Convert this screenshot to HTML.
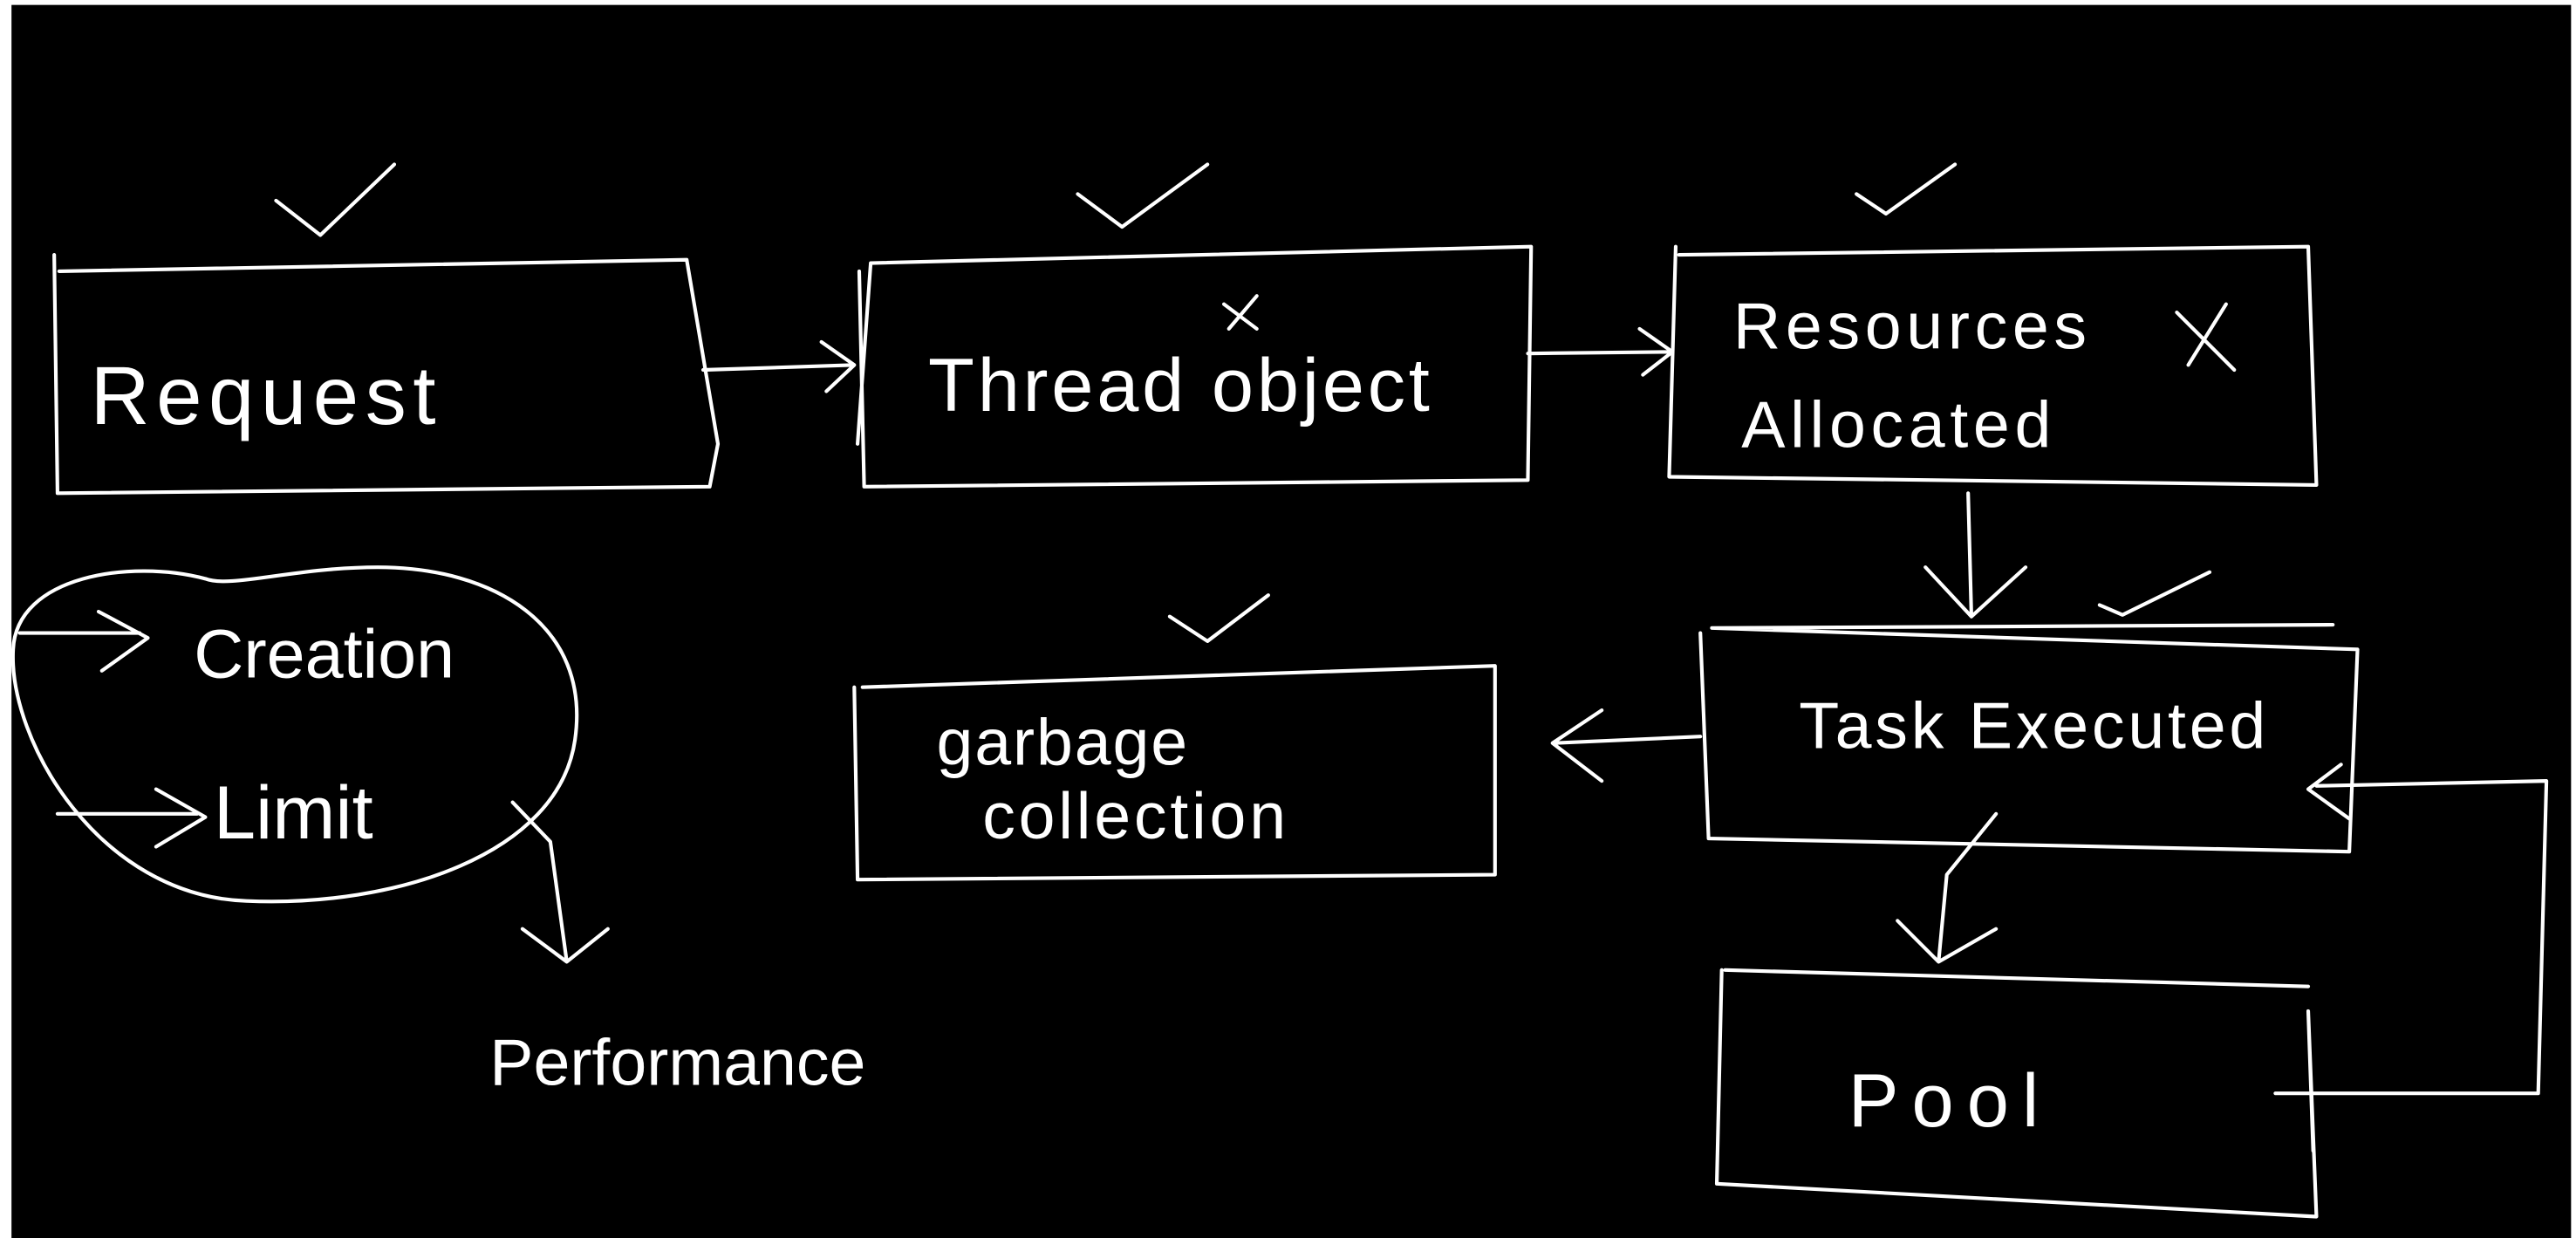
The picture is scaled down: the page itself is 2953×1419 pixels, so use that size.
<!DOCTYPE html>
<html><head><meta charset="utf-8"><style>
html,body{margin:0;padding:0;background:#fff;}
svg{display:block;}
text{font-family:"Liberation Sans",sans-serif;fill:#fff;}
</style></head><body>
<svg width="2953" height="1419" viewBox="0 0 1568 753" preserveAspectRatio="none" xmlns="http://www.w3.org/2000/svg">
<rect x="0" y="0" width="1568" height="753" fill="#fff"/>
<rect x="7" y="3" width="1558" height="750" fill="#000"/>
<g fill="none" stroke="#fff" stroke-width="2.2" stroke-linecap="round" stroke-linejoin="round">
<path d="M168 122 L195 143 L240 100"/>
<path d="M656 118 L683 138 L735 100"/>
<path d="M1130 118 L1148 130 L1190 100"/>
<path d="M712 375 L735 390 L772 362"/>
<path d="M1278 368 L1292 374 L1345 348"/>
<path d="M33 155 L35 300 L432 296 L437 270 L418 158 L36 165"/>
<path d="M523 165 L526 296 L930 292 L932 150 L530 160 L522 270"/>
<path d="M1020 150 L1016 290 L1410 295 L1405 150 L1022 155"/>
<path d="M428 225 L520 222 M500 208 L520 222 L503 238"/>
<path d="M930 215 L1018 214 M998 200 L1018 214 L1000 228"/>
<path d="M1198 300 L1200 375 M1172 345 L1200 375 L1233 345"/>
<path d="M1035 385 L1040 510 L1430 518 L1435 395 L1042 382 L1420 380"/>
<path d="M1035 448 L945 452 M975 432 L945 452 L975 475"/>
<path d="M520 418 L522 535 L910 532 L910 405 L525 418"/>
<path d="M1215 495 L1185 532 L1180 585 M1155 560 L1180 585 L1215 565"/>
<path d="M1048 590 L1045 720 L1410 740 L1405 615 L1408 700 M1050 590 L1405 600"/>
<path d="M1385 665 L1545 665 L1550 475 L1410 478 M1425 465 L1405 480 L1430 498"/>
<path d="M125 352 C80 340 10 350 8 395 C5 450 60 545 150 548 C240 552 340 520 350 450 C360 380 300 345 230 345 C180 345 140 358 125 352 Z"/>
<path d="M12 385 L85 385 M60 372 L90 388 L62 408"/>
<path d="M35 495 L120 495 M95 480 L125 497 L95 515"/>
<path d="M312 488 L335 512 L345 585 M318 565 L345 585 L370 565"/>
<path d="M745 185 L765 200 M765 180 L748 200"/>
<path d="M1325 190 L1360 225 M1355 185 L1332 222"/>
</g>
<g>
<text x="55" y="258" font-size="50" letter-spacing="4">Request</text>
<text x="565" y="250" font-size="46" letter-spacing="2">Thread object</text>
<text x="1055" y="212" font-size="40" letter-spacing="3">Resources</text>
<text x="1060" y="272" font-size="40" letter-spacing="3">Allocated</text>
<text x="1095" y="455" font-size="40" letter-spacing="2">Task Executed</text>
<text x="570" y="465" font-size="40" letter-spacing="1">garbage</text>
<text x="598" y="510" font-size="40" letter-spacing="2">collection</text>
<text x="1125" y="685" font-size="46" letter-spacing="8">Pool</text>
<text x="118" y="412" font-size="42">Creation</text>
<text x="130" y="510" font-size="46">Limit</text>
<text x="298" y="660" font-size="40">Performance</text>
</g>
</svg>
</body></html>
